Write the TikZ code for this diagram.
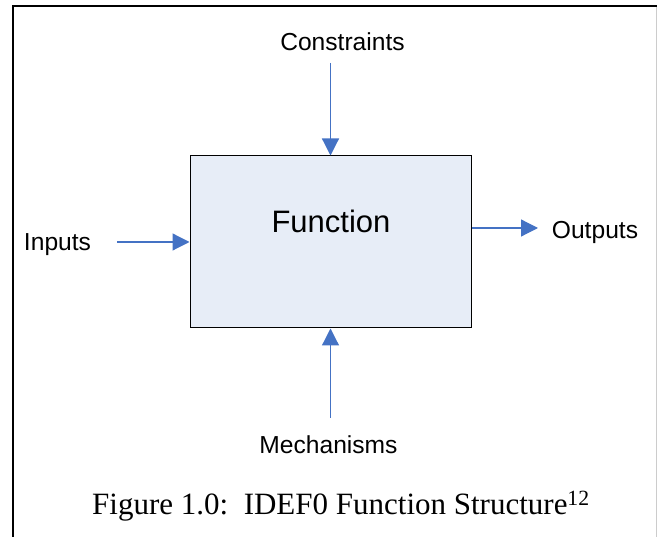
\documentclass[tikz,border=0pt]{standalone}
\usepackage{fontspec}
\setmainfont{Liberation Sans}
\newfontfamily\capfont{Liberation Serif}
\usetikzlibrary{arrows.meta}
\definecolor{arrowblue}{HTML}{4472C4}
\definecolor{boxfill}{HTML}{E7EDF7}
\tikzset{
  flow/.style={draw=arrowblue, line width=1.2pt, -{Triangle[length=17pt,width=17pt]}},
  lbl/.style={inner sep=0pt, anchor=base, font=\fontsize{24.6}{28}\selectfont},
  funcbox/.style={draw=black, line width=1pt, fill=boxfill, minimum width=281pt, minimum height=172pt, inner sep=0pt},
}
\begin{document}
\begin{tikzpicture}[x=1pt,y=-1pt]
\useasboundingbox (0,0) rectangle (657,537);
% frame
\draw[black, line width=2pt] (13,537) -- (13,6.5) -- (657,6.5);
\draw[lightgray!80, line width=0.8pt] (656,7) -- (656,537);
% function box
\node[funcbox] (box) at (330.5,242) {};
\node[inner sep=0pt, anchor=base, font=\fontsize{31}{35}\selectfont] (func) at (331,233) {Function};
% labels
\node[lbl] (cons) at (342.5,51) {Constraints};
\node[lbl] (inp) at (57.5,251) {Inputs};
\node[lbl] (outp) at (595,238.5) {Outputs};
\node[lbl] (mech) at (328.5,454) {Mechanisms};
% free ends
\coordinate (consE) at (330.5,63);
\coordinate (inpE) at (117,242);
\coordinate (outS) at (471,228);
\coordinate (outE) at (538,228);
\coordinate (mechE) at (330.5,418);
% connectors
\draw[flow] (consE) -- (box.north);
\draw[flow] (mechE) -- (box.south);
\draw[flow] (inpE) -- (box.west);
\draw[flow] (box.east |- outS) -- (outE);
% caption
\node[inner sep=0pt, anchor=base west, font=\capfont\fontsize{31}{35}\selectfont] (cap) at (92,514.5) {Figure 1.0:\ \ IDEF0 Function Structure\textsuperscript{12}};
\end{tikzpicture}
\end{document}
